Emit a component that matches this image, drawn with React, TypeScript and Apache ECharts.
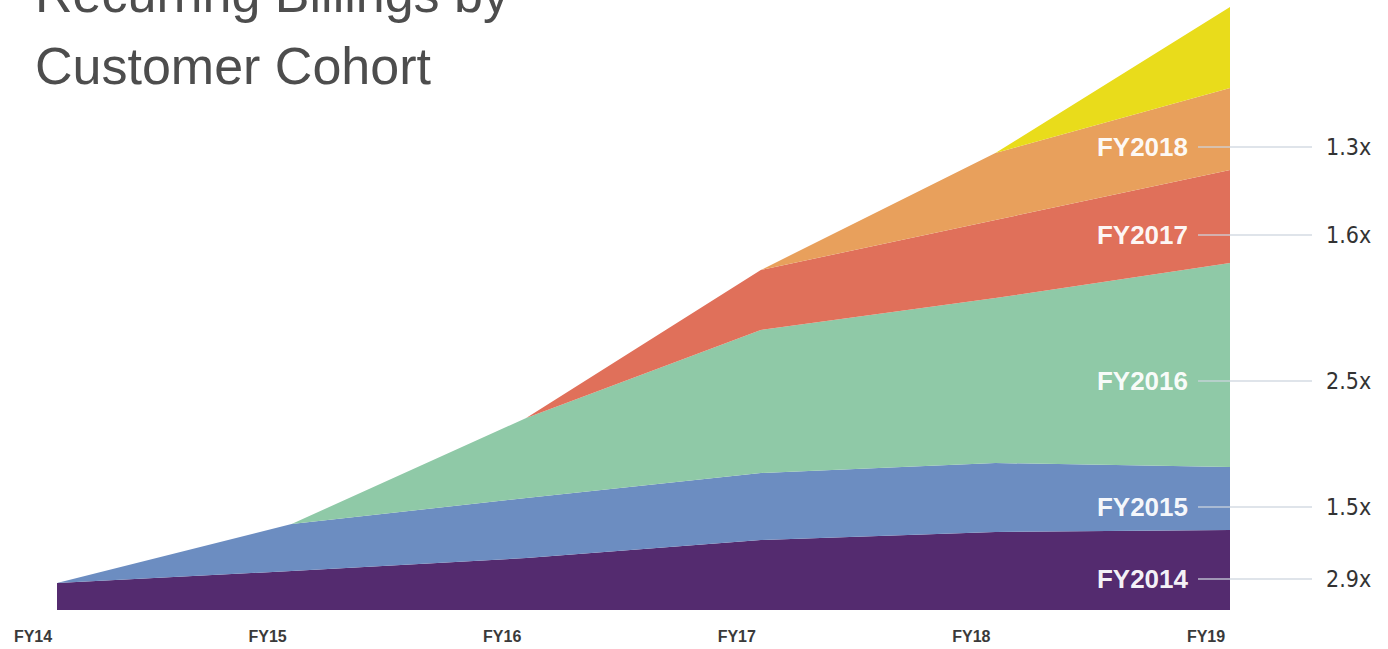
import React, { useEffect, useRef } from "react";
import * as echarts from "echarts";

const categories = ["FY14", "FY15", "FY16", "FY17", "FY18", "FY19"];
const cohortNames = ["FY2014", "FY2015", "FY2016", "FY2017", "FY2018", "FY2019"];
const fy2014 = [27, 39, 52, 70, 78, 80];
const fy2015 = [0, 47, 60, 67, 69, 63];
const fy2016 = [0, 0, 80, 143, 165, 204];
const fy2017 = [0, 0, 0, 60, 78, 93];
const fy2018 = [0, 0, 0, 0, 67, 82];
const fy2019 = [0, 0, 0, 0, 0, 81];
const cohortColors = ["#542b6f", "#6c8dc1", "#8fc9a7", "#e0705a", "#e8a05c", "#e9dc1b"];

// right-side annotation labels (cohort name, multiplier, anchor value on the y scale)
const annotNames = ["FY2018", "FY2017", "FY2016", "FY2015", "FY2014"];
const annotMultipliers = ["1.3x", "1.6x", "2.5x", "1.5x", "2.9x"];
const annotValues = [463, 375, 229, 103, 31];

const titleLines = ["Recurring Billings by", "Customer Cohort"];

export default function App() {
  const ref = useRef<HTMLDivElement>(null);
  useEffect(() => {
    if (!ref.current) return;
    const chart = echarts.init(ref.current, null, { renderer: "svg" });
    const seriesData = [fy2014, fy2015, fy2016, fy2017, fy2018, fy2019];
    chart.setOption({
      animation: false,
      grid: { left: 57, right: 158, top: 0, bottom: 39, containLabel: false },
      xAxis: {
        type: "category",
        data: categories,
        boundaryGap: false,
        axisLine: { show: false },
        axisTick: { show: false },
        splitLine: { show: false },
        axisLabel: {
          margin: 18,
          fontFamily: "'Liberation Sans', Arial, sans-serif",
          fontWeight: "bold",
          fontSize: 16,
          color: "#3a3a3a",
          padding: [0, 48, 0, 0],
        },
      },
      yAxis: {
        type: "value",
        min: 0,
        max: 610,
        show: false,
        splitLine: { show: false },
      },
      series: seriesData.map((d, i) => ({
        name: cohortNames[i],
        type: "line",
        stack: "total",
        data: d,
        symbol: "none",
        lineStyle: { width: 0 },
        areaStyle: { color: cohortColors[i], opacity: 1 },
        itemStyle: { color: cohortColors[i] },
        z: 2 + i,
      })),
    });

    const graphics: any[] = [];
    const lastIdx = categories.length - 1;
    annotNames.forEach((name, i) => {
      const p = chart.convertToPixel({ gridIndex: 0 }, [lastIdx, annotValues[i]]) as number[];
      const y = p[1];
      graphics.push({
        type: "text",
        x: 1188,
        y,
        z: 100,
        style: {
          text: name,
          fill: "#ffffff",
          font: "bold 26px 'Liberation Sans', Arial, sans-serif",
          align: "right",
          verticalAlign: "middle",
          opacity: 0.95,
        },
      });
      graphics.push({
        type: "line",
        z: 100,
        shape: { x1: 1198, y1: y, x2: 1312, y2: y },
        style: { stroke: "rgba(205,213,222,0.85)", lineWidth: 1.5 },
      });
      graphics.push({
        type: "text",
        x: 1326,
        y,
        z: 100,
        style: {
          text: annotMultipliers[i],
          fill: "#333333",
          font: "23px 'Liberation Sans Narrow', 'DejaVu Sans Condensed', sans-serif",
          align: "left",
          verticalAlign: "middle",
        },
      });
    });
    graphics.push({
      type: "text",
      x: 35,
      y: -6,
      z: 100,
      style: {
        text: titleLines[0],
        fill: "#4d4d4d",
        font: "52px 'Liberation Sans', Arial, sans-serif",
        verticalAlign: "middle",
      },
    });
    graphics.push({
      type: "text",
      x: 35,
      y: 66,
      z: 100,
      style: {
        text: titleLines[1],
        fill: "#4d4d4d",
        font: "52px 'Liberation Sans', Arial, sans-serif",
        verticalAlign: "middle",
      },
    });
    chart.setOption({ graphic: graphics });

    return () => chart.dispose();
  }, []);
  return (
    <div
      ref={ref}
      style={{ position: "fixed", left: 0, top: 0, width: 1388, height: 649, background: "#fff" }}
    />
  );
}
